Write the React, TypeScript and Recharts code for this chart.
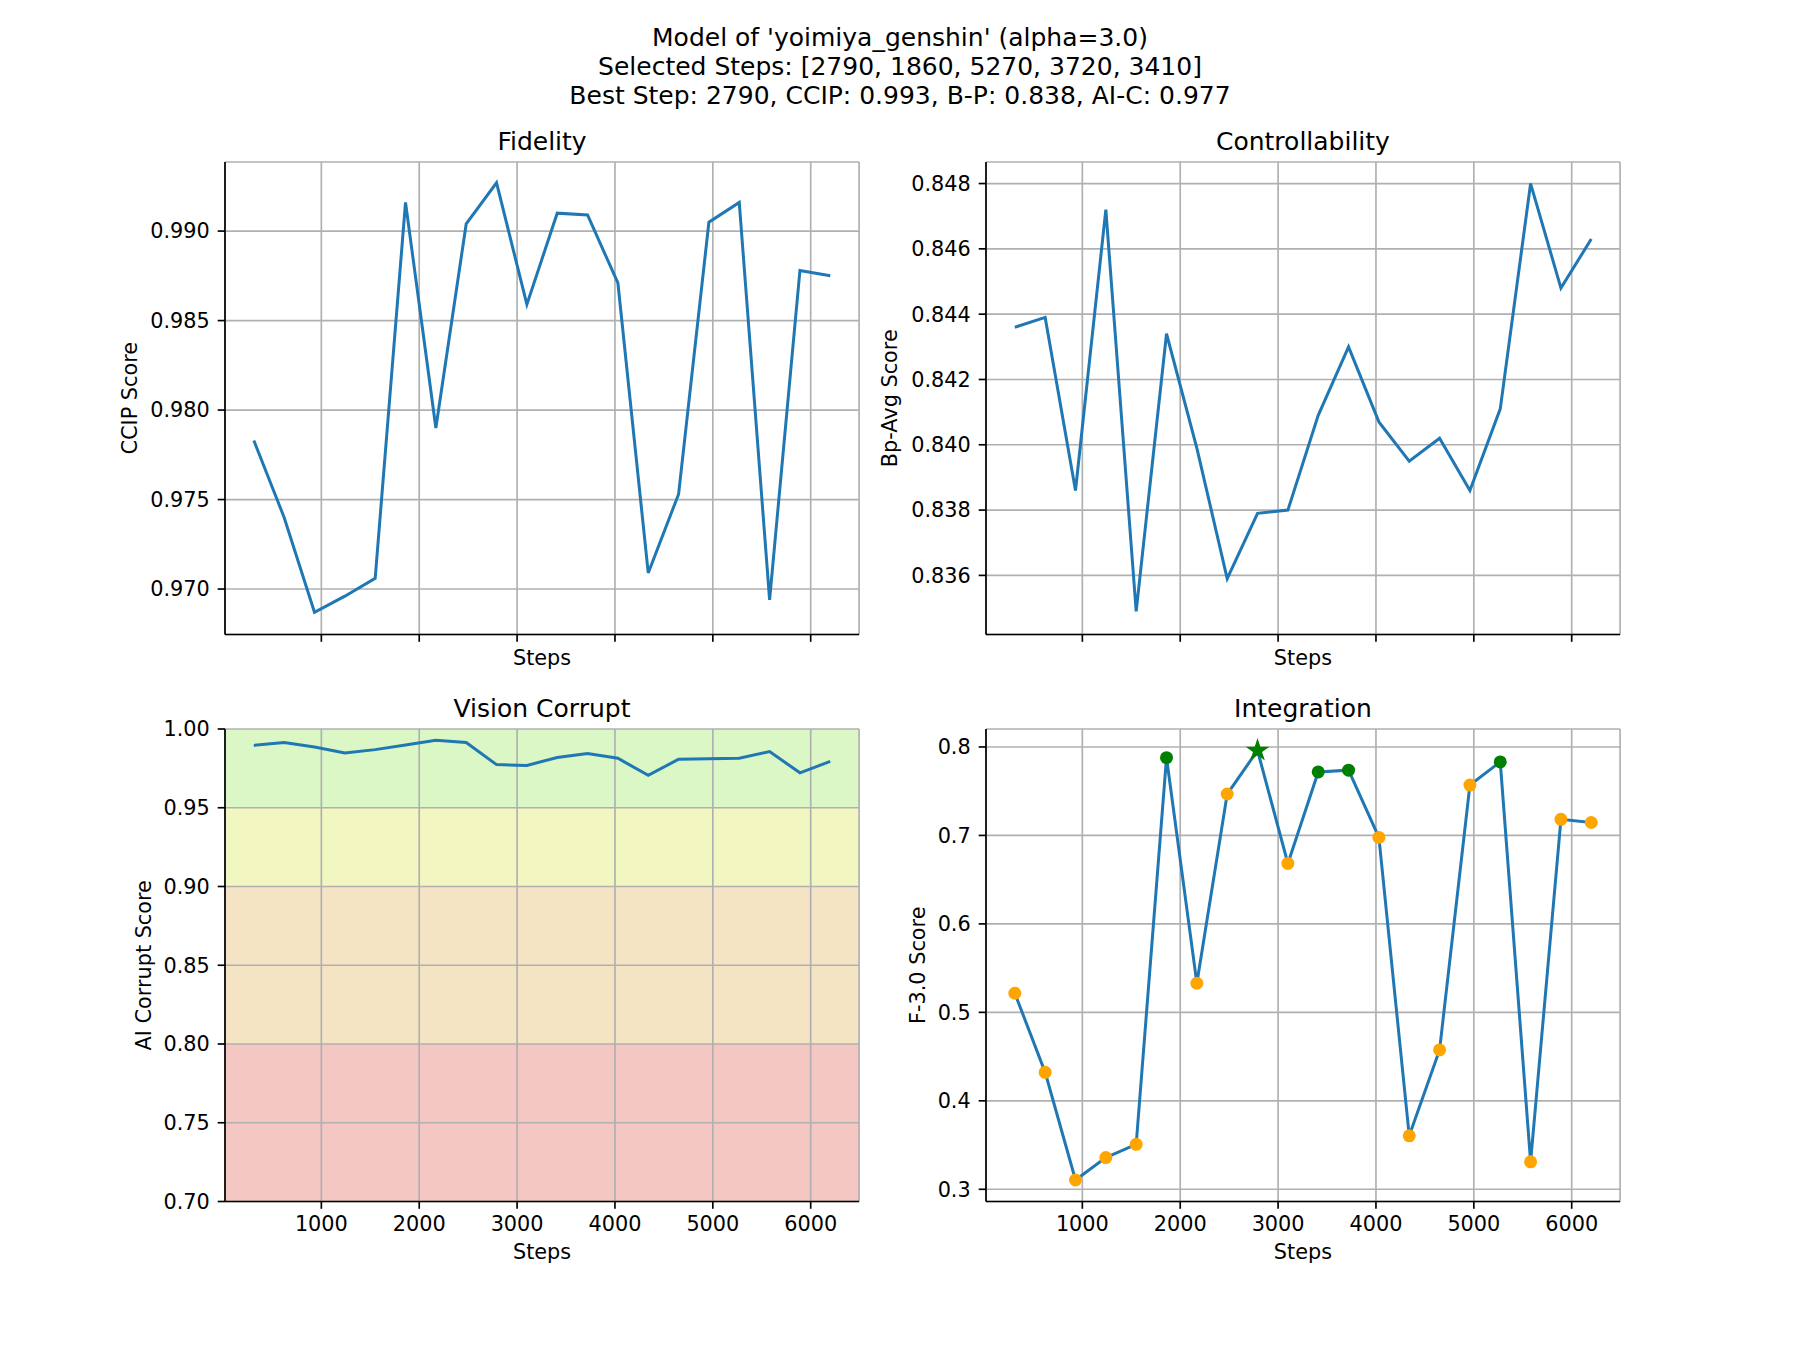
import React from 'react';
import { LineChart, Line, XAxis, YAxis, CartesianGrid, ReferenceArea } from 'recharts';

// ---------------- data ----------------
const steps = [310, 620, 930, 1240, 1550, 1860, 2170, 2480, 2790, 3100, 3410, 3720, 4030, 4340, 4650, 4960, 5270, 5580, 5890, 6200];
const ccip = [0.9783, 0.9740, 0.9687, 0.9696, 0.9706, 0.9916, 0.9790, 0.9904, 0.9927, 0.9859, 0.9910, 0.9909, 0.9871, 0.9709, 0.9753, 0.9905, 0.9916, 0.9694, 0.9878, 0.9875];
const bpAvg = [0.8436, 0.8439, 0.8386, 0.8472, 0.8349, 0.8434, 0.8399, 0.8359, 0.8379, 0.8380, 0.8409, 0.8430, 0.8407, 0.8395, 0.8402, 0.8386, 0.8411, 0.8480, 0.8448, 0.8463];
const aiCorrupt = [0.9896, 0.9914, 0.9886, 0.9848, 0.9869, 0.9898, 0.9928, 0.9914, 0.9774, 0.9769, 0.9819, 0.9844, 0.9814, 0.9706, 0.9808, 0.9811, 0.9814, 0.9857, 0.9722, 0.9794];
const f3Score = [0.5216, 0.4322, 0.3105, 0.3359, 0.3508, 0.7879, 0.5329, 0.7468, 0.7960, 0.6683, 0.7718, 0.7738, 0.6977, 0.3604, 0.4575, 0.7569, 0.7831, 0.3310, 0.7182, 0.7146];

const selectedSteps = [2790, 1860, 5270, 3720, 3410];
const bestStep = 2790;

const xDomain = [15.5, 6494.5];
const xTicks = [1000, 2000, 3000, 4000, 5000, 6000];

const ccipDomain = [0.96746, 0.99386];
const ccipTicks = [0.970, 0.975, 0.980, 0.985, 0.990];
const bpDomain = [0.83419, 0.84866];
const bpTicks = [0.836, 0.838, 0.840, 0.842, 0.844, 0.846, 0.848];
const aiDomain = [0.70, 1.00];
const aiTicks = [0.70, 0.75, 0.80, 0.85, 0.90, 0.95, 1.00];
const f3Domain = [0.2862, 0.8203];
const f3Ticks = [0.3, 0.4, 0.5, 0.6, 0.7, 0.8];

const aiBandBounds = [
  [0.95, 1.0],
  [0.9, 0.95],
  [0.8, 0.9],
  [0.7, 0.8],
];

const titleLines = [
  "Model of 'yoimiya_genshin' (alpha=3.0)",
  'Selected Steps: [2790, 1860, 5270, 3720, 3410]',
  'Best Step: 2790, CCIP: 0.993, B-P: 0.838, AI-C: 0.977',
];

const rows = steps.map((s, i) => ({
  step: s,
  ccip: ccip[i],
  bp: bpAvg[i],
  ai: aiCorrupt[i],
  f3: f3Score[i],
}));

// ---------------- styles / layout ----------------
const FONT = "'DejaVu Sans', sans-serif";
const BLUE = '#1f77b4';
const bandColors = ['#daf7c5', '#f2f7c2', '#f5e4c4', '#f5c7c2'];

const AX_W = 634.1;
const AX_H = 472.5;
const COL_L = [225, 985.9];
const ROW_T = [162, 729];
const PAD_L = 120;
const PAD_R = 20;
const PAD_T = 50;
const PAD_B = 80;

const LW = 1.67;
const tickStyle = { fontSize: 20.8, fill: '#000', fontFamily: FONT };
const emptyTick = (props: any) => <g key={`et-${props.index}`} />;

function starPoints(cx: number, cy: number, R: number) {
  const pts: string[] = [];
  for (let i = 0; i < 10; i++) {
    const a = (-90 + i * 36) * Math.PI / 180;
    const r = i % 2 === 0 ? R : R * 0.381966;
    pts.push(`${cx + r * Math.cos(a)},${cy + r * Math.sin(a)}`);
  }
  return pts.join(' ');
}

const circleDot = (props: any) => {
  const { cx, cy, payload, index } = props;
  const key = `c-${index}`;
  if (cx == null || cy == null || payload.step === bestStep) return <g key={key} />;
  const sel = selectedSteps.includes(payload.step);
  return <circle key={key} cx={cx} cy={cy} r={6.5} fill={sel ? '#008000' : '#ffa500'} stroke="none" />;
};

const starDot = (props: any) => {
  const { cx, cy, payload, index } = props;
  const key = `s-${index}`;
  if (cx == null || cy == null || payload.step !== bestStep) return <g key={key} />;
  return <polygon key={key} points={starPoints(cx, cy, 12.5)} fill="#008000" stroke="none" />;
};

type PanelProps = {
  col: number;
  row: number;
  yKey: string;
  yDomain: number[];
  yTicks: number[];
  digits: number;
  showXLabels: boolean;
  bands?: boolean;
  markers?: boolean;
};

function Panel({ col, row, yKey, yDomain, yTicks, digits, showXLabels, bands, markers }: PanelProps) {
  const left = COL_L[col];
  const top = ROW_T[row];
  return (
    <div style={{ position: 'absolute', left: left - PAD_L, top: top - PAD_T }}>
      <LineChart
        width={AX_W + PAD_L + PAD_R}
        height={AX_H + PAD_T + PAD_B}
        data={rows}
        margin={{ top: PAD_T, right: PAD_R, bottom: 0, left: 0 }}
      >
        {bands &&
          aiBandBounds.map((b, i) => (
            <ReferenceArea
              key={`band-${i}`}
              y1={b[0]}
              y2={b[1]}
              x1={xDomain[0]}
              x2={xDomain[1]}
              fill={bandColors[i]}
              fillOpacity={1}
              stroke="none"
              ifOverflow="hidden"
              {...({ zIndex: -200 } as any)}
            />
          ))}
        <CartesianGrid stroke="#b0b0b0" strokeWidth={LW} />
        <XAxis
          dataKey="step"
          type="number"
          domain={xDomain}
          ticks={xTicks}
          interval={0}
          allowDataOverflow
          height={PAD_B}
          tickSize={7.3}
          tickMargin={7}
          tick={showXLabels ? tickStyle : emptyTick}
          axisLine={{ stroke: '#000', strokeWidth: LW }}
          tickLine={{ stroke: '#000', strokeWidth: LW }}
        />
        <YAxis
          type="number"
          domain={yDomain}
          ticks={yTicks}
          interval={0}
          allowDataOverflow
          width={PAD_L}
          tickSize={7.3}
          tickMargin={8}
          tick={tickStyle}
          tickFormatter={(v: number) => v.toFixed(digits)}
          axisLine={{ stroke: '#000', strokeWidth: LW }}
          tickLine={{ stroke: '#000', strokeWidth: LW }}
        />
        <XAxis
          xAxisId="top"
          orientation="top"
          type="number"
          domain={xDomain}
          allowDataOverflow
          height={0}
          tick={false}
          tickLine={false}
          axisLine={{ stroke: '#000', strokeWidth: LW }}
        />
        <YAxis
          yAxisId="right"
          orientation="right"
          type="number"
          domain={yDomain}
          allowDataOverflow
          width={0}
          tick={false}
          tickLine={false}
          axisLine={{ stroke: '#000', strokeWidth: LW }}
        />
        {markers && (
          <Line
            dataKey={yKey}
            stroke="none"
            dot={circleDot}
            activeDot={false}
            isAnimationActive={false}
            legendType="none"
            {...({ zIndex: 300 } as any)}
          />
        )}
        <Line
          type="linear"
          dataKey={yKey}
          stroke={BLUE}
          strokeWidth={3}
          dot={false}
          activeDot={false}
          isAnimationActive={false}
          {...({ zIndex: 450 } as any)}
        />
        {markers && (
          <Line
            dataKey={yKey}
            stroke="none"
            dot={starDot}
            activeDot={false}
            isAnimationActive={false}
            legendType="none"
            {...({ zIndex: 700 } as any)}
          />
        )}
      </LineChart>
    </div>
  );
}

function TextLayer() {
  const cx = [COL_L[0] + AX_W / 2, COL_L[1] + AX_W / 2];
  const cy = [ROW_T[0] + AX_H / 2, ROW_T[1] + AX_H / 2];
  const titles = [
    ['Fidelity', 0, 0],
    ['Controllability', 1, 0],
    ['Vision Corrupt', 0, 1],
    ['Integration', 1, 1],
  ] as const;
  const titleBase = [149.5, 716.5];
  const stepsBase = [665, 1258.5];
  const yLabels = [
    ['CCIP Score', 137, cy[0]],
    ['Bp-Avg Score', 897, cy[0]],
    ['AI Corrupt Score', 150.5, cy[1]],
    ['F-3.0 Score', 925, cy[1]],
  ] as const;
  return (
    <svg
      width={1800}
      height={1350}
      style={{ position: 'absolute', left: 0, top: 0, pointerEvents: 'none' }}
      fontFamily={FONT}
    >
      {titleLines.map((t, i) => (
        <text key={`st-${i}`} x={900} y={45.7 + i * 29} textAnchor="middle" fontSize={25} fill="#000">
          {t}
        </text>
      ))}
      {titles.map(([t, c, r]) => (
        <text key={t} x={cx[c]} y={titleBase[r]} textAnchor="middle" fontSize={25} fill="#000">
          {t}
        </text>
      ))}
      {[0, 1].map((r) =>
        [0, 1].map((c) => (
          <text key={`steps-${r}-${c}`} x={cx[c]} y={stepsBase[r]} textAnchor="middle" fontSize={20.8} fill="#000">
            Steps
          </text>
        ))
      )}
      {yLabels.map(([t, x, y]) => (
        <text
          key={t}
          x={x}
          y={y}
          textAnchor="middle"
          fontSize={20.8}
          fill="#000"
          transform={`rotate(-90 ${x} ${y})`}
        >
          {t}
        </text>
      ))}
    </svg>
  );
}

export default function App() {
  return (
    <div
      style={{
        position: 'absolute',
        left: 0,
        top: 0,
        width: 1800,
        height: 1350,
        background: '#fff',
        fontFamily: FONT,
        overflow: 'hidden',
      }}
    >
      <Panel col={0} row={0} yKey="ccip" yDomain={ccipDomain} yTicks={ccipTicks} digits={3} showXLabels={false} />
      <Panel col={1} row={0} yKey="bp" yDomain={bpDomain} yTicks={bpTicks} digits={3} showXLabels={false} />
      <Panel col={0} row={1} yKey="ai" yDomain={aiDomain} yTicks={aiTicks} digits={2} showXLabels bands />
      <Panel col={1} row={1} yKey="f3" yDomain={f3Domain} yTicks={f3Ticks} digits={1} showXLabels markers />
      <TextLayer />
    </div>
  );
}
